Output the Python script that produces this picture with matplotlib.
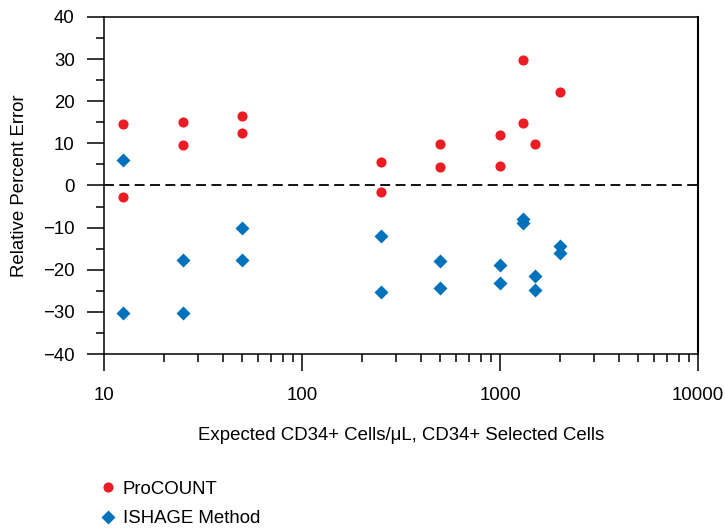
import matplotlib
matplotlib.use("Agg")
import matplotlib.pyplot as plt
from matplotlib.ticker import FixedLocator, MultipleLocator, LogLocator, NullFormatter

plt.rcParams["font.family"] = ["Liberation Sans", "DejaVu Sans"]

# expected CD34+ cells/uL and relative percent error per method
procount_x = [12.5, 12.5, 25, 25, 50, 50, 250, 250, 500, 500,
              1000, 1000, 1300, 1300, 1500, 2000]
procount_y = [14.7, -2.8, 15.1, 9.6, 16.6, 12.5, 5.6, -1.5, 9.8, 4.4,
              12.1, 4.7, 29.8, 14.9, 9.8, 22.3]
ishage_x = [12.5, 12.5, 25, 25, 50, 50, 250, 250, 500, 500,
            1000, 1000, 1300, 1300, 1500, 1500, 2000, 2000]
ishage_y = [6.1, -30.2, -17.7, -30.2, -10.2, -17.7, -12.0, -25.2, -17.9, -24.4,
            -18.8, -23.1, -7.9, -9.0, -21.4, -24.9, -14.3, -16.0]

x_ticks = [10, 100, 1000, 10000]
y_ticks = [-40, -30, -20, -10, 0, 10, 20, 30, 40]

RED = "#EC1C24"
BLUE = "#0071BB"
FS = 13.4

fig = plt.figure(figsize=(7.25, 5.29), dpi=100)
ax = fig.add_axes([0.1434, 0.3308, 0.8194, 0.6371])

ax.axhline(0, color="black", lw=1.3, ls=(0, (5.5, 3)), zorder=1)
ax.plot(procount_x, procount_y, "o", color=RED, ms=7.3, mec="none",
        label="ProCOUNT", zorder=3)
ax.plot(ishage_x, ishage_y, "D", color=BLUE, ms=6.8, mec="none",
        label="ISHAGE Method", zorder=3)

ax.set_xscale("log")
ax.set_xlim(10, 10000)
ax.set_ylim(-40, 40)
ax.xaxis.set_major_locator(FixedLocator(x_ticks))
ax.set_xticklabels([str(v) for v in x_ticks])
ax.xaxis.set_minor_locator(LogLocator(base=10, subs=range(2, 10)))
ax.xaxis.set_minor_formatter(NullFormatter())
ax.yaxis.set_major_locator(FixedLocator(y_ticks))
ax.set_yticklabels([("\u2212" + str(-v)) if v < 0 else str(v) for v in y_ticks])
ax.yaxis.set_minor_locator(MultipleLocator(5))

ax.tick_params(which="major", direction="out", length=12, width=1.1,
               labelsize=FS, pad=12)
ax.tick_params(which="minor", direction="out", length=6, width=1.1)
ax.tick_params(axis="y", which="major", pad=9)
for side in ("left", "bottom", "top"):
    ax.spines[side].set_linewidth(1.1)
ax.spines["right"].set_linewidth(1.5)

ax.set_xlabel("Expected CD34+ Cells/\u03bcL, CD34+ Selected Cells",
              fontsize=FS, labelpad=16)
ax.set_ylabel("Relative Percent Error", fontsize=FS, labelpad=11)

fig.legend(loc="center left", bbox_to_anchor=(0.136, 0.047), frameon=False,
           fontsize=FS, handlelength=1.0, handletextpad=0.3,
           labelspacing=0.68, borderpad=0, borderaxespad=0)

fig.savefig("out.png", dpi=100)
